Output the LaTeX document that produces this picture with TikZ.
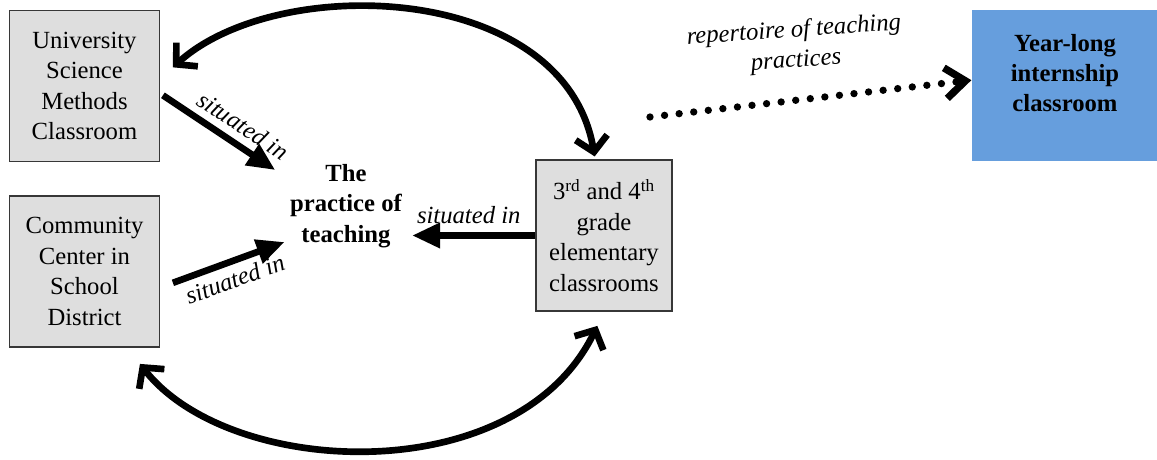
\documentclass[tikz,border=0pt]{standalone}
\usepackage{fontspec}
\setmainfont{Liberation Serif}[
  UprightFont={Liberation Serif},
  BoldFont={Liberation Serif Bold},
  ItalicFont={Liberation Serif Italic},
  BoldItalicFont={Liberation Serif Bold Italic}]
\usetikzlibrary{arrows.meta,calc}
\definecolor{boxgray}{RGB}{222,222,222}
\definecolor{boxedge}{RGB}{55,55,55}
\definecolor{intern}{RGB}{102,158,221}

\begin{document}
\begin{tikzpicture}[x=0.75pt,y=-0.75pt,
  txt/.style={font=\fontsize{18.5}{22.8}\selectfont},
  site/.style={txt,draw=boxedge,line width=1.1pt,fill=boxgray,
    minimum width=112.5pt,minimum height=113.5pt,align=center,inner sep=0pt},
  target/.style={txt,fill=intern,minimum width=140pt,minimum height=113.5pt,
    align=center,inner sep=0pt,font=\fontsize{18.5}{22.8}\selectfont\bfseries},
  core/.style={txt,align=center,inner sep=0pt,font=\fontsize{18.5}{22.8}\selectfont\bfseries},
  relabel/.style={txt,font=\fontsize{18.5}{22.8}\selectfont\itshape},
  link/.style={line width=5pt,-{Triangle[length=21pt,width=18pt]}},
  loop/.style={line width=5pt,
    {Straight Barb[length=11pt,width=24pt]}-{Straight Barb[length=11pt,width=24pt]}},
  carry/.style={line width=5.5pt,line cap=round,dash pattern=on 0pt off 11pt,
    -{Straight Barb[length=15pt,width=23pt]}}]

\useasboundingbox (0,0) rectangle (1157,460);

% settings
\node[site] (usm) at (84.5,86) {University\\Science\\Methods\\Classroom};
\node[site] (cc) at (84.5,271.5) {Community\\Center in\\School\\District};
\node[site,minimum width=102pt] (grade) at (604,235.5)
  {3\textsuperscript{rd} and 4\textsuperscript{th}\\grade\\elementary\\classrooms};
\node[target] (yl) at (1065,85.5) {Year-long\\internship\\classroom\\[-4pt]\mbox{}};

% central idea
\node[core] (prac) at (346,206) {The\\practice of\\teaching};

% situated-in links
\draw[link] ([xshift=2pt,yshift=-7pt]usm.east)
  -- node[relabel,pos=0.62,sloped,above=2pt] {situated in}
  ([xshift=-11pt,yshift=-4.5pt]prac.north west);
\draw[link] ([xshift=9.5pt,yshift=-8.5pt]cc.east)
  -- node[relabel,pos=0.5,sloped,below=1pt] {situated in}
  ([xshift=-4pt,yshift=-27pt]prac.west);
\draw[link] (grade.west)
  -- node[relabel,pos=0.54,above=3pt] {situated in}
  ($(grade.west -| prac.east)+(10,0)$);

% two-way arcs between the settings
\draw[loop] ([xshift=9.5pt,yshift=14pt]usm.east)
  .. controls +(105,-95) and +(-30,-175) .. ([xshift=-7pt,yshift=2pt]grade.north);
\draw[loop] ([xshift=41.6pt,yshift=-12pt]cc.south)
  .. controls +(90,115) and +(-80,165) .. ([xshift=-5pt,yshift=-10.5pt]grade.south);

% carried forward into the internship
\coordinate (rep) at (650,117);
\draw[carry] (rep) -- ([yshift=4pt]yl.west);
\node[relabel,align=center,rotate=4] (replabel) at (795,46)
  {repertoire of teaching\\practices};

\end{tikzpicture}
\end{document}
